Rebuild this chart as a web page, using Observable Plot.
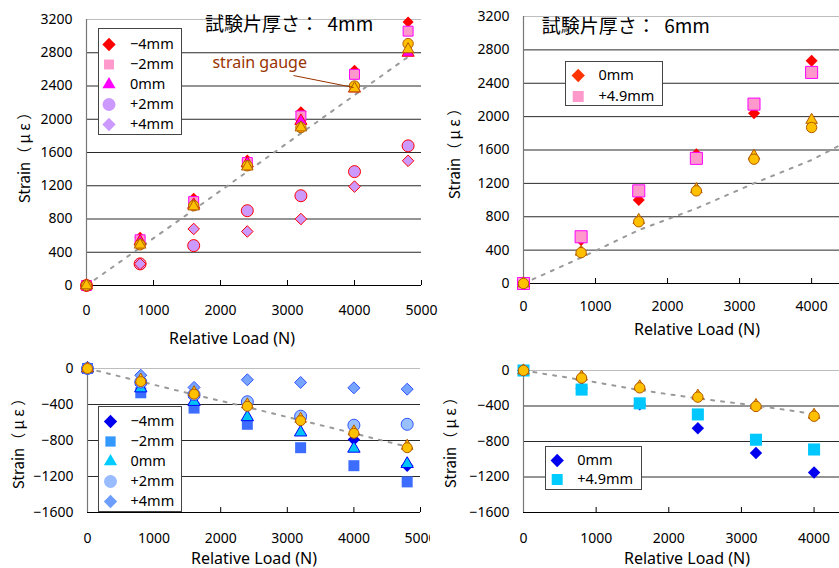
<!DOCTYPE html>
<html><head><meta charset="utf-8">
<script src="https://cdn.jsdelivr.net/npm/d3@7"></script>
<script src="https://cdn.jsdelivr.net/npm/@observablehq/plot@0.6"></script>
<style>
body{margin:0;background:#fff;}
#root{position:relative;width:839px;height:568px;overflow:hidden;background:#fff;font-family:"Noto Sans","Noto Sans CJK JP",sans-serif;}
.panel{position:absolute;overflow:hidden;}
.lbl{position:absolute;white-space:pre;color:#000;line-height:1;}
.legend{position:absolute;border:1px solid #444;background:#fff;}
</style></head><body><div id="root"></div>
<script>
// ---------- data ----------
const loads4 = [0, 800, 1600, 2400, 3200, 4000, 4800];
const loads6 = [0, 800, 1600, 2400, 3200, 4000];
const xTicks5 = [0, 1000, 2000, 3000, 4000, 5000];
const xTicks4 = [0, 1000, 2000, 3000, 4000];
const yTicksTop = [0, 400, 800, 1200, 1600, 2000, 2400, 2800, 3200];
const yTicksBottom = [-1600, -1200, -800, -400, 0];

const titleTopLeft = "試験片厚さ：  4mm";
const titleTopRight = "試験片厚さ：  6mm";
const yLabel = "Strain（ μ ε ）";
const xLabel = "Relative Load (N)";
const labels4 = ["−4mm", "−2mm", "0mm", "+2mm", "+4mm"];
const labels6 = ["0mm", "+4.9mm"];

// top-left: thickness 4mm, tension side
const a_m4 = [0, 580, 1050, 1510, 2090, 2590, 3170];
const a_m2 = [0, 550, 1010, 1480, 2040, 2540, 3060];
const a_0 = [0, 530, 970, 1470, 1980, 2370, 2800];
const a_p2 = [0, 260, 480, 900, 1080, 1370, 1680];
const a_p4 = [0, 260, 680, 650, 800, 1190, 1500];
const a_feC = [0, 490, 960, 1440, 1900, 2400, 2910];
const a_feT = [0, 490, 950, 1430, 1900, 2370, 2840];
const a_gauge = [0, 455, 910, 1370, 1830, 2290, 2750];
const noteText = "strain gauge";
const noteAt = [1880, 2680];
const noteLink = [3090, 2526, 3985, 2382];

// top-right: thickness 6mm, tension side
const b_0 = [0, 520, 1000, 1550, 2040, 2670];
const b_p49 = [0, 560, 1110, 1500, 2150, 2530];
const b_feC = [0, 370, 740, 1110, 1490, 1870];
const b_feT = [0, 380, 760, 1130, 1530, 1960];
const b_gauge = [0, 310, 640, 900, 1200, 1480, 1840];

// bottom-left: thickness 4mm, compression side
const c_m4 = [0, -180, -320, -370, -560, -790, -1080];
const c_m2 = [0, -270, -440, -620, -880, -1080, -1260];
const c_0 = [0, -220, -370, -540, -710, -890, -1060];
const c_p2 = [0, -150, -290, -370, -530, -630, -620];
const c_p4 = [0, -75, -210, -125, -155, -215, -230];
const c_feC = [0, -145, -285, -420, -580, -720, -880];
const c_feT = [0, -125, -265, -400, -560, -700, -860];
const c_gauge = [0, -145, -290, -430, -575, -720, -870];

// bottom-right: thickness 6mm, compression side
const d_0 = [0, -200, -380, -650, -930, -1150];
const d_p49 = [0, -215, -370, -495, -780, -890];
const d_feC = [0, -85, -195, -300, -405, -515];
const d_feT = [0, -70, -180, -285, -390, -500];
const d_gauge = [0, -105, -220, -315, -395, -490];

// ---------- helpers ----------
const root = document.getElementById("root");
const mk = (xs, ys) => xs.map((x, i) => ({x, y: ys[i]}));
const fmt = d => String(d).replace("-", "−");
const FE_FILL = "#ffc000", FE_STROKE = "#b35900";

function panel(cfg) {
  const {left, top, width, height, mt, mb, ml, mr, xdom, ydom, xticks, yticks, series, gaugeX, gauge, xPad, extra = []} = cfg;
  const plotH = height - mt - mb;
  const interior = yticks.filter(t => t !== ydom[0] && t !== ydom[1]);
  const marks = [
    Plot.ruleY(interior, {stroke: "#2a2a2a", strokeWidth: 1}),
    Plot.ruleY([ydom[1]], {stroke: "#bdbdbd", strokeWidth: 1.2}),
    Plot.ruleX([0], {stroke: "#777", strokeWidth: 1.2}),
    Plot.ruleY([ydom[0]], {stroke: "#000", strokeWidth: 1}),
    Plot.ruleX(xticks.filter(t => t > 0), {stroke: "#000", insetTop: plotH - 5}),
    Plot.line(mk(gaugeX, gauge), {x: "x", y: "y", stroke: "#9a9a9a", strokeWidth: 2, strokeDasharray: "3 7", clip: true}),
    ...series.map(s => Plot.dot(mk(s.xs, s.ys), {x: "x", y: "y", symbol: s.symbol, fill: s.fill, stroke: s.stroke || "none", strokeWidth: 1, r: s.r})),
    ...extra,
    Plot.axisX({ticks: xticks, tickSize: 0, tickPadding: xPad, tickFormat: fmt, fontSize: 14, label: null}),
    Plot.axisY({ticks: yticks, tickSize: 0, tickPadding: 14, tickFormat: fmt, fontSize: 14, label: null})
  ];
  const svg = Plot.plot({
    width, height, marginTop: mt, marginBottom: mb, marginLeft: ml, marginRight: mr,
    x: {domain: xdom, label: null}, y: {domain: ydom, label: null},
    style: {fontFamily: '"Noto Sans","Noto Sans CJK JP",sans-serif', color: "#000", background: "transparent", overflow: "visible"},
    marks
  });
  const div = document.createElement("div");
  div.className = "panel";
  Object.assign(div.style, {left: left + "px", top: top + "px", width: width + "px", height: height + "px"});
  div.appendChild(svg);
  root.appendChild(div);
}

function legend(cfg) {
  const {left, top, w, h, items, rows, mx, tx, fs} = cfg;
  const labels = items.map(d => d.label);
  const svg = Plot.plot({
    width: w - 2, height: h - 2, margin: 0,
    y: {type: "point", domain: labels, range: rows, padding: 0, axis: null},
    style: {fontFamily: '"Noto Sans","Noto Sans CJK JP",sans-serif', color: "#000", background: "transparent"},
    marks: [
      ...items.map(it => Plot.dot([it], {y: "label", frameAnchor: "left", dx: mx, symbol: it.symbol, fill: it.fill, stroke: "none", r: it.r})),
      Plot.text(items, {y: "label", text: "label", frameAnchor: "left", dx: tx, textAnchor: "start", fontSize: fs, fill: "#000"})
    ]
  });
  const div = document.createElement("div");
  div.className = "legend";
  Object.assign(div.style, {left: left + "px", top: top + "px", width: (w - 2) + "px", height: (h - 2) + "px"});
  div.appendChild(svg);
  root.appendChild(div);
}

function label(text, x, y, fs, opts = {}) {
  const d = document.createElement("div");
  d.className = "lbl";
  d.textContent = text;
  d.style.fontSize = fs + "px";
  d.style.left = x + "px";
  d.style.top = y + "px";
  if (opts.color) d.style.color = opts.color;
  if (opts.font) d.style.fontFamily = opts.font;
  d.style.transform = opts.rotate ? "translate(-50%,-50%) rotate(-90deg)" : (opts.center ? "translate(-50%,-50%)" : "translateY(-50%)");
  root.appendChild(d);
}

// ---------- panels ----------
panel({
  left: 0, top: 0, width: 445, height: 350, mt: 19, mb: 65, ml: 86, mr: 24,
  xdom: [0, 5000], ydom: [0, 3200], xticks: xTicks5, yticks: yTicksTop, xPad: 20,
  gaugeX: loads4, gauge: a_gauge,
  series: [
    {xs: loads4, ys: a_m4, symbol: "diamond2", fill: "#ff0000", r: 5},
    {xs: loads4, ys: a_m2, symbol: "square", fill: "#ff99cc", stroke: "#ff00ff", r: 5.6},
    {xs: loads4, ys: a_0, symbol: "triangle", fill: "#ff00ff", stroke: "#ff0000", r: 4.5},
    {xs: loads4, ys: a_p2, symbol: "circle", fill: "#cc99ff", stroke: "#ff0000", r: 6},
    {xs: loads4, ys: a_p4, symbol: "diamond2", fill: "#cc99ff", stroke: "#ff0000", r: 5.2},
    {xs: loads4, ys: a_feC, symbol: "circle", fill: FE_FILL, stroke: FE_STROKE, r: 5.2},
    {xs: loads4, ys: a_feT, symbol: "triangle", fill: FE_FILL, stroke: FE_STROKE, r: 4.3}
  ],
  extra: [
    Plot.link([{x1: noteLink[0], y1: noteLink[1], x2: noteLink[2], y2: noteLink[3]}], {x1: "x1", y1: "y1", x2: "x2", y2: "y2", stroke: "#993300", strokeWidth: 1}),
    Plot.text([{x: noteAt[0], y: noteAt[1], t: noteText}], {x: "x", y: "y", text: "t", textAnchor: "start", fill: "#993300", fontSize: 16})
  ]
});

panel({
  left: 430, top: 0, width: 409, height: 350, mt: 16, mb: 67, ml: 93, mr: 0,
  xdom: [0, 4387], ydom: [0, 3200], xticks: xTicks4, yticks: yTicksTop, xPad: 18,
  gaugeX: loads4, gauge: b_gauge,
  series: [
    {xs: loads6, ys: b_0, symbol: "diamond2", fill: "#ff0000", r: 5.4},
    {xs: loads6, ys: b_p49, symbol: "square", fill: "#ff99cc", stroke: "#ff00ff", r: 6.8},
    {xs: loads6, ys: b_feT, symbol: "triangle", fill: FE_FILL, stroke: FE_STROKE, r: 4.3},
    {xs: loads6, ys: b_feC, symbol: "circle", fill: FE_FILL, stroke: FE_STROKE, r: 5.2}
  ]
});

panel({
  left: 0, top: 350, width: 430, height: 218, mt: 18, mb: 56, ml: 87, mr: 10,
  xdom: [0, 5000], ydom: [-1600, 0], xticks: xTicks5, yticks: yTicksBottom, xPad: 21,
  gaugeX: loads4, gauge: c_gauge,
  series: [
    {xs: loads4, ys: c_m4, symbol: "diamond2", fill: "#0000ee", r: 5.6},
    {xs: loads4, ys: c_m2, symbol: "square", fill: "#3d6dff", r: 6.2},
    {xs: loads4, ys: c_0, symbol: "triangle", fill: "#00c4f4", stroke: "#0000ff", r: 4.6},
    {xs: loads4, ys: c_p2, symbol: "circle", fill: "#99c0ff", stroke: "#3355ff", r: 6},
    {xs: loads4, ys: c_p4, symbol: "diamond2", fill: "#77a4ff", stroke: "#3355ff", r: 5.4},
    {xs: loads4, ys: c_feT, symbol: "triangle", fill: FE_FILL, stroke: FE_STROKE, r: 4.3},
    {xs: loads4, ys: c_feC, symbol: "circle", fill: FE_FILL, stroke: FE_STROKE, r: 5}
  ]
});

panel({
  left: 430, top: 350, width: 409, height: 218, mt: 20, mb: 56, ml: 93, mr: 0,
  xdom: [0, 4350], ydom: [-1600, 0], xticks: xTicks4, yticks: yTicksBottom, xPad: 21,
  gaugeX: loads6, gauge: d_gauge,
  series: [
    {xs: loads6, ys: d_0, symbol: "diamond2", fill: "#0000ee", r: 5.6},
    {xs: loads6, ys: d_p49, symbol: "square", fill: "#00c8ff", r: 6.8},
    {xs: loads6, ys: d_feT, symbol: "triangle", fill: FE_FILL, stroke: FE_STROKE, r: 4.3},
    {xs: loads6, ys: d_feC, symbol: "circle", fill: FE_FILL, stroke: FE_STROKE, r: 5.2}
  ]
});

// ---------- legends ----------
legend({left: 98, top: 28, w: 84, h: 107, rows: [14.3, 95.3], mx: 9.5, tx: 30.5, fs: 14.5, items: [
  {label: labels4[0], symbol: "diamond2", fill: "#ff0000", r: 6},
  {label: labels4[1], symbol: "square", fill: "#ff99cc", r: 5.6},
  {label: labels4[2], symbol: "triangle", fill: "#ff00ff", r: 4.9},
  {label: labels4[3], symbol: "circle", fill: "#cc99ff", r: 6.5},
  {label: labels4[4], symbol: "diamond2", fill: "#cc99ff", r: 6}
]});
legend({left: 565, top: 61, w: 98, h: 45, rows: [13, 34], mx: 11.7, tx: 32, fs: 14.5, items: [
  {label: labels6[0], symbol: "diamond2", fill: "#ff3300", r: 6},
  {label: labels6[1], symbol: "square", fill: "#ff99cc", r: 6.2}
]});
legend({left: 98, top: 406, w: 84, h: 106, rows: [13, 95.7], mx: 11, tx: 31, fs: 14.5, items: [
  {label: labels4[0], symbol: "diamond2", fill: "#0000ee", r: 6},
  {label: labels4[1], symbol: "square", fill: "#3399ff", r: 5.8},
  {label: labels4[2], symbol: "triangle", fill: "#00ccff", r: 4.9},
  {label: labels4[3], symbol: "circle", fill: "#99bbff", r: 6.5},
  {label: labels4[4], symbol: "diamond2", fill: "#6d9eff", r: 6}
]});
legend({left: 545, top: 446, w: 97, h: 44, rows: [12.3, 32.3], mx: 10.7, tx: 30.7, fs: 14.5, items: [
  {label: labels6[0], symbol: "diamond2", fill: "#0000ee", r: 6},
  {label: labels6[1], symbol: "square", fill: "#00ccff", r: 6.2}
]});

// ---------- titles and axis labels ----------
const CJK = '"Noto Sans CJK JP",sans-serif';
label(titleTopLeft, 205, 21.7, 19, {font: CJK});
label(titleTopRight, 541.7, 24, 19, {font: CJK});
label(yLabel, 23, 154, 15, {rotate: true, font: CJK});
label(yLabel, 453, 150, 15, {rotate: true, font: CJK});
label(yLabel, 17, 440, 15, {rotate: true, font: CJK});
label(yLabel, 449, 439, 15, {rotate: true, font: CJK});
label(xLabel, 232, 338, 16, {center: true});
label(xLabel, 697, 329, 16, {center: true});
label(xLabel, 254, 558, 16, {center: true});
label(xLabel, 687, 558, 16, {center: true});
</script></body></html>
